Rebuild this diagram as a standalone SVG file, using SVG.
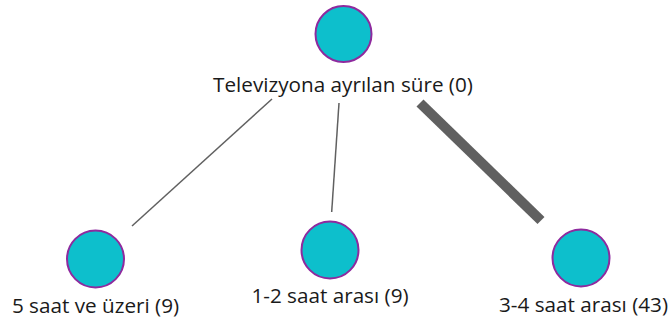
<svg xmlns="http://www.w3.org/2000/svg" width="671" height="327" viewBox="0 0 671 327">
  <style>
    .node circle { fill: #0dbfcc; stroke: #8e2a9e; stroke-width: 2; }
    .node text { font-family: "Open Sans", "Noto Sans", "DejaVu Sans", sans-serif; font-size: 20.7px; fill: #1a1a1a; text-anchor: middle; }
    .edge { stroke: #606060; stroke-linecap: butt; fill: none; }
  </style>
  <rect width="671" height="327" fill="#ffffff"/>
  <g id="edges">
    <line class="edge" x1="272" y1="99" x2="132" y2="226" stroke-width="1.5"/>
    <line class="edge" x1="339" y1="103" x2="331.7" y2="212" stroke-width="1.5"/>
    <line class="edge" x1="420" y1="103" x2="541" y2="220.5" stroke-width="10"/>
  </g>
  <g id="node-root" class="node">
    <circle cx="343.5" cy="34" r="28"/>
    <text x="343" y="92">Televizyona ayrılan süre (0)</text>
  </g>
  <g id="node-5plus" class="node">
    <circle cx="95.5" cy="259" r="28.5"/>
    <text x="95.5" y="312.5">5 saat ve üzeri (9)</text>
  </g>
  <g id="node-1-2" class="node">
    <circle cx="330" cy="250" r="28.5"/>
    <text x="330" y="303">1-2 saat arası (9)</text>
  </g>
  <g id="node-3-4" class="node">
    <circle cx="581" cy="258" r="28.5"/>
    <text x="583.5" y="311.5">3-4 saat arası (43)</text>
  </g>
</svg>
